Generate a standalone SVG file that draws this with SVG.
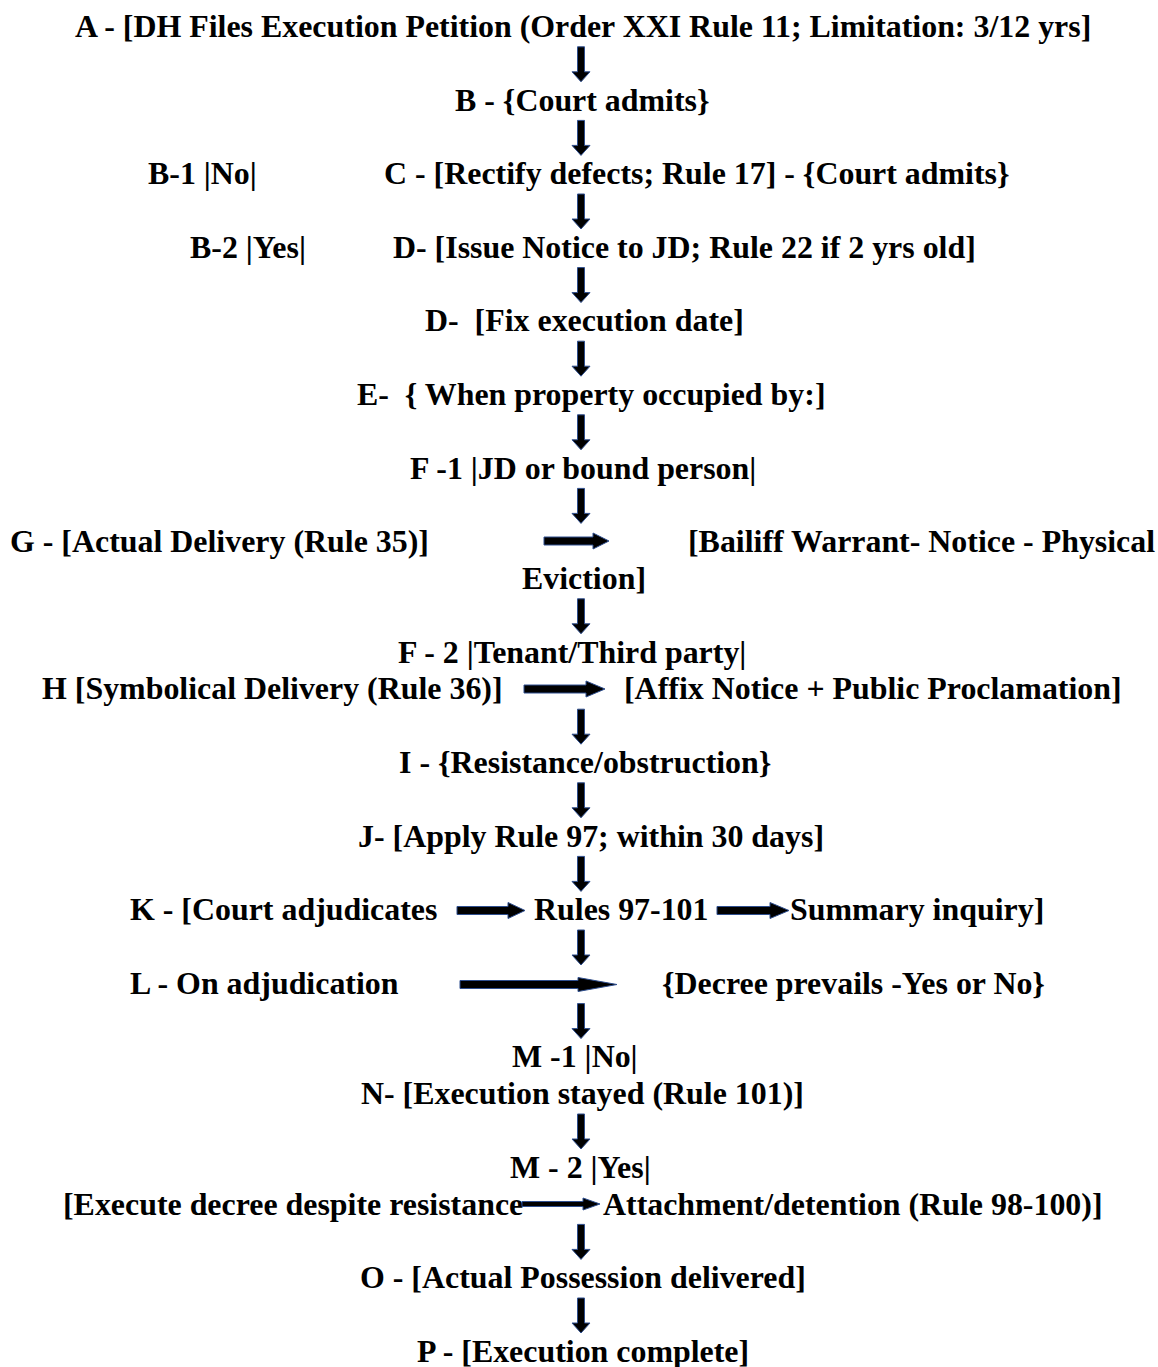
<svg xmlns="http://www.w3.org/2000/svg" xmlns:xlink="http://www.w3.org/1999/xlink" width="1158" height="1367" viewBox="0 0 1158 1367">
<style>
text{font-family:"Liberation Serif","Times New Roman",serif;font-weight:bold;font-size:31.9px;fill:#000;white-space:pre}
.arr{fill:#000;stroke:#2F4F8F;stroke-width:1}
</style>
<defs>
<path id="va" class="arr" d="M-3.5,0 H3.5 V25 H9 L0,35 L-9,25 H-3.5 Z"/>
</defs>
<rect width="1158" height="1367" fill="#fff"/>
<g id="nodes">
<g id="A"><text x="75" y="37">A - [DH Files Execution Petition (Order XXI Rule 11; Limitation: 3/12 yrs]</text></g>
<g id="B"><text x="455" y="110.6">B - {Court admits}</text></g>
<g id="B1"><text x="148" y="184.2">B-1 |No|</text></g>
<g id="C"><text x="384" y="184.2">C - [Rectify defects; Rule 17] - {Court admits}</text></g>
<g id="B2"><text x="190" y="257.8">B-2 |Yes|</text></g>
<g id="D"><text x="393" y="257.8">D- [Issue Notice to JD; Rule 22 if 2 yrs old]</text></g>
<g id="D2"><text x="425" y="331.4">D-  [Fix execution date]</text></g>
<g id="E"><text x="357" y="405">E-  { When property occupied by:]</text></g>
<g id="F1"><text x="410" y="478.6">F -1 |JD or bound person|</text></g>
<g id="G"><text x="10" y="552.2">G - [Actual Delivery (Rule 35)]</text></g>
<g id="Bailiff"><text x="688" y="552.2">[Bailiff Warrant- Notice - Physical</text><text x="522" y="589">Eviction]</text></g>
<g id="F2"><text x="398" y="662.6">F - 2 |Tenant/Third party|</text></g>
<g id="H"><text x="42" y="699.4">H [Symbolical Delivery (Rule 36)]</text></g>
<g id="Affix"><text x="624" y="699.4">[Affix Notice + Public Proclamation]</text></g>
<g id="I"><text x="399" y="773">I - {Resistance/obstruction}</text></g>
<g id="J"><text x="358" y="846.6">J- [Apply Rule 97; within 30 days]</text></g>
<g id="K"><text x="130" y="920.2">K - [Court adjudicates</text></g>
<g id="Rules"><text x="534" y="920.2">Rules 97-101</text></g>
<g id="Summary"><text x="790" y="920.2">Summary inquiry]</text></g>
<g id="L"><text x="130" y="993.8">L - On adjudication</text></g>
<g id="Decree"><text x="662" y="993.8">{Decree prevails -Yes or No}</text></g>
<g id="M1"><text x="512" y="1067.4">M -1 |No|</text></g>
<g id="N"><text x="361" y="1104.2">N- [Execution stayed (Rule 101)]</text></g>
<g id="M2"><text x="510" y="1177.8">M - 2 |Yes|</text></g>
<g id="Exec"><text x="63" y="1214.6">[Execute decree despite resistance</text></g>
<g id="Attach"><text x="603" y="1214.6">Attachment/detention (Rule 98-100)]</text></g>
<g id="O"><text x="360" y="1288.2">O - [Actual Possession delivered]</text></g>
<g id="P"><text x="417" y="1361.8">P - [Execution complete]</text></g>
</g>
<g id="connectors">
<use xlink:href="#va" href="#va" x="581" y="46.8"/>
<use xlink:href="#va" href="#va" x="581" y="120.4"/>
<use xlink:href="#va" href="#va" x="581" y="194"/>
<use xlink:href="#va" href="#va" x="581" y="267.6"/>
<use xlink:href="#va" href="#va" x="581" y="341.2"/>
<use xlink:href="#va" href="#va" x="581" y="414.8"/>
<use xlink:href="#va" href="#va" x="581" y="488.4"/>
<use xlink:href="#va" href="#va" x="581" y="598.8"/>
<use xlink:href="#va" href="#va" x="581" y="709.2"/>
<use xlink:href="#va" href="#va" x="581" y="782.8"/>
<use xlink:href="#va" href="#va" x="581" y="856.4"/>
<use xlink:href="#va" href="#va" x="581" y="930"/>
<use xlink:href="#va" href="#va" x="581" y="1003.6"/>
<use xlink:href="#va" href="#va" x="581" y="1114"/>
<use xlink:href="#va" href="#va" x="581" y="1224.4"/>
<use xlink:href="#va" href="#va" x="581" y="1298"/>
<path class="arr" d="M544,537 H593 V533 L609,541 L593,549 V545 H544 Z"/>
<path class="arr" d="M524,685 H586 V681 L605,689 L586,697 V693 H524 Z"/>
<path class="arr" d="M457,906.5 H508 V902.5 L525,910.5 L508,918.5 V914.5 H457 Z"/>
<path class="arr" d="M717,906.5 H770 V902.5 L789,910.5 L770,918.5 V914.5 H717 Z"/>
<path class="arr" d="M460,980.5 H578 V977.5 L617,984.5 L578,991.5 V988.5 H460 Z"/>
<path class="arr" d="M522,1201.5 H583 V1198 L600,1204 L583,1210 V1206.5 H522 Z"/>
</g>
</svg>
